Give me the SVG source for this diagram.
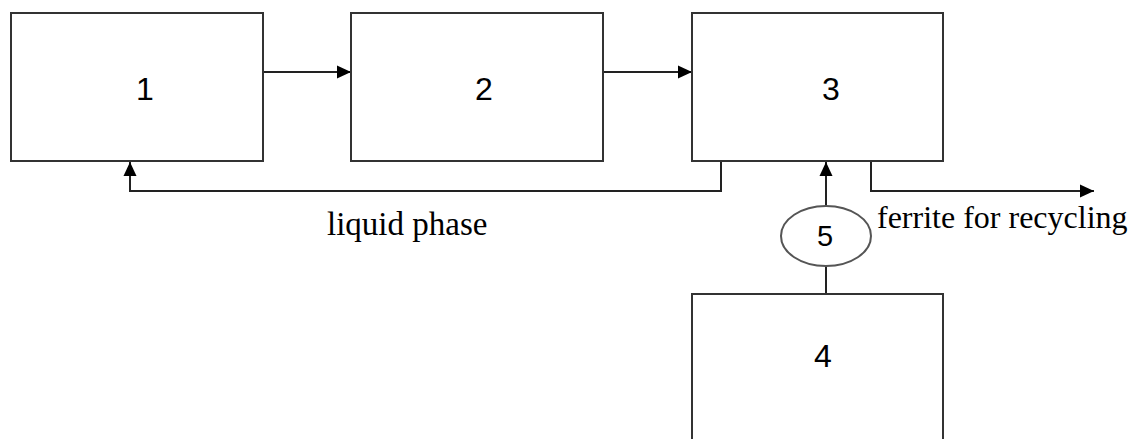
<svg xmlns="http://www.w3.org/2000/svg" width="1132" height="439" viewBox="0 0 1132 439">
  <style>
    .box { fill: #ffffff; stroke: #333333; stroke-width: 2; }
    .conn { fill: none; stroke: #222222; stroke-width: 2; }
    .num { font-family: "Liberation Sans", Arial, sans-serif; font-size: 32px; fill: #000000; text-anchor: middle; }
    .lbl { font-family: "Liberation Serif", "Times New Roman", serif; font-size: 33px; fill: #000000; }
  </style>
  <defs>
    <marker id="arrow" viewBox="0 0 14 14" refX="14" refY="7" markerWidth="14" markerHeight="14" markerUnits="userSpaceOnUse" orient="auto">
      <path d="M0,0.5 L14,7 L0,13.5 Z" fill="#000000"/>
    </marker>
  </defs>
  <rect width="1132" height="439" fill="#ffffff"/>
  <g id="connectors">
    <path class="conn" d="M263,72 L351,72" marker-end="url(#arrow)"/>
    <path class="conn" d="M603,72 L692,72" marker-end="url(#arrow)"/>
    <path class="conn" d="M721,161 L721,191 L130,191 L130,162" marker-end="url(#arrow)"/>
    <path class="conn" d="M871,161 L871,191 L1094,191" marker-end="url(#arrow)"/>
    <path class="conn" d="M826,205 L826,162" marker-end="url(#arrow)"/>
    <path class="conn" d="M826,294 L826,266"/>
  </g>
  <g id="node1">
    <rect class="box" x="11" y="13" width="252" height="148"/>
    <text class="num" x="145" y="100">1</text>
  </g>
  <g id="node2">
    <rect class="box" x="351" y="13" width="252" height="148"/>
    <text class="num" x="484" y="100">2</text>
  </g>
  <g id="node3">
    <rect class="box" x="692" y="13" width="251" height="148"/>
    <text class="num" x="831" y="100">3</text>
  </g>
  <g id="node4">
    <rect class="box" x="692" y="294" width="251" height="160"/>
    <text class="num" x="823" y="367">4</text>
  </g>
  <g id="node5">
    <ellipse cx="826" cy="236" rx="45" ry="30" fill="#ffffff" stroke="#555555" stroke-width="2"/>
    <text class="num" x="825" y="246" style="font-size:29px">5</text>
  </g>
  <g id="labels">
    <text class="lbl" x="327" y="235">liquid phase</text>
    <text class="lbl" x="877" y="228" style="font-size:32px">ferrite for recycling</text>
  </g>
</svg>
